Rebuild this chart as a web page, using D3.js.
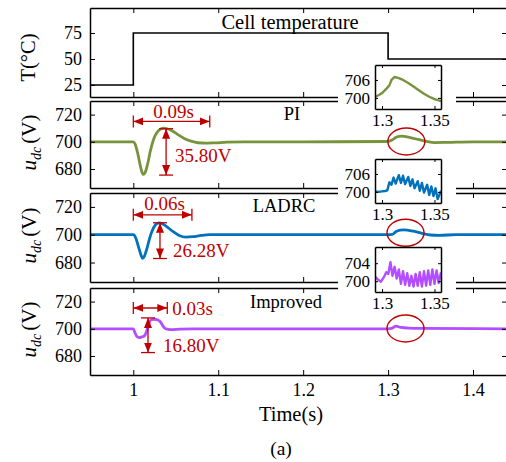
<!DOCTYPE html>
<html><head><meta charset="utf-8">
<script src="https://cdn.jsdelivr.net/npm/d3@7"></script>
<style>body{margin:0;background:#fff}</style>
</head><body><svg id="c" width="506" height="462"></svg>
<script>
// ---------------- data ----------------
const xTicks = [1, 1.1, 1.2, 1.3, 1.4];
const xTickLabels = ["1", "1.1", "1.2", "1.3", "1.4"];
const tempTicks = [25, 50, 75];
const udcTicks = [680, 700, 720];
const panelTitles = ["Cell temperature", "PI", "LADRC", "Improved"];

const tempT = [0.949, 1.0, 1.3, 1.44];
const tempV = [25, 75, 50, 50];

const piT = [0.949, 1.000, 1.002, 1.005, 1.008, 1.010, 1.012, 1.014, 1.017, 1.020, 1.024, 1.028, 1.032, 1.036, 1.040, 1.046, 1.052, 1.060, 1.068, 1.076, 1.085, 1.095, 1.110, 1.130, 1.200, 1.300, 1.305, 1.310, 1.316, 1.325, 1.335, 1.345, 1.355, 1.370, 1.400, 1.440];
const piV = [700, 700, 698.5, 692, 683, 678, 676, 677.5, 684, 693, 702, 707, 709.3, 710, 709.6, 708, 705.5, 702.5, 700.5, 699.3, 699, 699.2, 699.7, 700, 700, 700.2, 701.5, 703.5, 704.2, 703.2, 701.8, 700.3, 699.4, 699.6, 700, 700];

const ladT = [0.949, 1.000, 1.003, 1.006, 1.009, 1.011, 1.013, 1.016, 1.019, 1.022, 1.026, 1.030, 1.034, 1.040, 1.047, 1.054, 1.062, 1.070, 1.080, 1.090, 1.200, 1.300, 1.305, 1.310, 1.318, 1.330, 1.340, 1.350, 1.360, 1.380, 1.440];
const ladV = [700, 700, 697.5, 691.5, 685.5, 683, 684.5, 690, 697, 702.5, 707, 708.5, 708, 705.5, 702.2, 699.5, 698.3, 698.6, 699.5, 700, 700, 700, 700.3, 702.5, 703.5, 702.5, 701, 699.8, 699.6, 700, 700];

const impT = [0.949, 1.000, 1.002, 1.004, 1.007, 1.010, 1.013, 1.015, 1.017, 1.019, 1.021, 1.025, 1.029, 1.032, 1.035, 1.038, 1.044, 1.055, 1.070, 1.300, 1.305, 1.309, 1.315, 1.325, 1.340, 1.440];
const impV = [700, 700, 697, 694.5, 693.5, 694, 694.8, 697, 701, 705, 706.8, 707, 706.5, 705, 702, 700, 699.4, 699.8, 700, 700, 700.5, 702, 701, 700.5, 700.3, 700];

// zoomed insets (1.3 s – 1.35 s)
const insetXTicks = [1.3, 1.35];
const insetXLabels = ["1.3", "1.35"];
const piInTicks = [700, 706];
const ladInTicks = [700, 706];
const impInTicks = [700, 704];

const piInT = [1.2933, 1.297, 1.300, 1.304, 1.307, 1.309, 1.312, 1.316, 1.320, 1.325, 1.330, 1.335, 1.340, 1.345, 1.350, 1.3562];
const piInV = [700.3, 701.0, 701.6, 703.0, 704.2, 706.0, 707.0, 706.6, 706.0, 705.0, 703.8, 702.6, 701.4, 700.4, 699.6, 698.9];

const ladInT = [1.2933, 1.297, 1.300, 1.303, 1.305, 1.307, 1.309, 1.311, 1.313, 1.316, 1.318, 1.320, 1.322, 1.325, 1.327, 1.329, 1.331, 1.334, 1.336, 1.338, 1.340, 1.343, 1.345, 1.347, 1.349, 1.351, 1.353, 1.3562];
const ladInV = [700.2, 700.0, 700.2, 700.3, 700.5, 703.2, 702.4, 704.8, 702.8, 705.6, 703.0, 705.4, 702.6, 705.0, 702.0, 704.2, 701.2, 703.6, 700.4, 703.0, 699.8, 702.4, 699.0, 701.8, 698.6, 701.2, 697.6, 700.4];

const impInT = [1.2933, 1.296, 1.299, 1.302, 1.304, 1.306, 1.308, 1.310, 1.312, 1.314, 1.316, 1.318, 1.320, 1.322, 1.324, 1.326, 1.328, 1.330, 1.332, 1.334, 1.336, 1.338, 1.340, 1.342, 1.344, 1.346, 1.348, 1.350, 1.352, 1.354, 1.3562];
const impInV = [701.0, 700.4, 699.9, 701.0, 702.0, 701.6, 704.2, 701.2, 703.2, 700.6, 702.6, 699.4, 702.2, 699.2, 701.8, 699.0, 701.2, 698.8, 701.6, 699.0, 702.0, 698.8, 702.2, 699.0, 702.4, 699.2, 702.6, 699.4, 702.4, 699.6, 702.0];

// annotation values (data units)
const overshootLabels = ["35.80V", "26.28V", "16.80V"];
const settleLabels = ["0.09s", "0.06s", "0.03s"];
const settleEnd = [1.09, 1.069, 1.04];
const settleLevel = [715, 714.3, 715.3];
const peakT = [1.0386, 1.0314, 1.0173];
const peakTop = [709.6, 708.6, 708];
const peakBottom = [675.5, 682.9, 682.5];
const ellipseT = [1.3215, 1.3205, 1.3205];
const ellipseV = [700.2, 701.4, 700.2];

// ---------------- drawing ----------------
const FONT = '"Liberation Serif","Times New Roman",Times,serif';
const RED = "#C00000";
const colors = ["#77933C", "#0072BD", "#B34DFF"];
const svg = d3.select("#c").style("font-family", FONT);

const defs = svg.append("defs");
defs.append("marker").attr("id", "ah").attr("viewBox", "0 0 10 8")
  .attr("refX", 10).attr("refY", 4).attr("markerWidth", 10).attr("markerHeight", 8)
  .attr("markerUnits", "userSpaceOnUse").attr("orient", "auto-start-reverse")
  .append("path").attr("d", "M0,0L10,4L0,8Z").attr("fill", RED);

const panels = [{top: 8, bottom: 97}, {top: 101, bottom: 188}, {top: 193, bottom: 282}, {top: 288, bottom: 375}];
const L = 90, R = 507;
const x = d3.scaleLinear().domain([0.949, 1.44]).range([L, R]);
const yT = d3.scaleLinear().domain([13.5, 99]).range([panels[0].bottom, panels[0].top]);
const yU = panels.slice(1).map(p => d3.scaleLinear().domain([666, 730]).range([p.bottom, p.top]));

panels.forEach((p, i) => {
  defs.append("clipPath").attr("id", "cp" + i).append("rect")
    .attr("x", L).attr("y", p.top).attr("width", R - L).attr("height", p.bottom - p.top);
});

function styleAxis(g, fs) {
  g.attr("font-family", FONT).attr("font-size", fs);
  g.selectAll("path.domain").attr("stroke", "#000").attr("stroke-width", 1.5);
  g.selectAll(".tick line").attr("stroke", "#000").attr("stroke-width", 1);
  g.selectAll(".tick text").attr("fill", "#000");
}

function frame(xs, ys, top, bottom, left, right, xt, yt, tick, fs, showX, xl, pad) {
  const gb = svg.append("g").attr("transform", `translate(0,${bottom})`)
    .call(d3.axisBottom(xs).tickValues(xt).tickSizeInner(-tick).tickSizeOuter(0).tickPadding(pad)
      .tickFormat((d, i) => showX ? xl[i] : ""));
  styleAxis(gb, fs);
  const gt = svg.append("g").attr("transform", `translate(0,${top})`)
    .call(d3.axisTop(xs).tickValues(xt).tickSizeInner(-tick).tickSizeOuter(0).tickFormat(() => ""));
  styleAxis(gt, fs);
  const gl = svg.append("g").attr("transform", `translate(${left},0)`)
    .call(d3.axisLeft(ys).tickValues(yt).tickSizeInner(-tick).tickSizeOuter(0).tickPadding(pad)
      .tickFormat(d3.format("d")));
  styleAxis(gl, fs);
  const gr = svg.append("g").attr("transform", `translate(${right},0)`)
    .call(d3.axisRight(ys).tickValues(yt).tickSizeInner(-tick).tickSizeOuter(0).tickFormat(() => ""));
  styleAxis(gr, fs);
}

// Panel 1: temperature
const tempData = tempT.map((t, i) => [t, tempV[i]]);
svg.append("path").attr("clip-path", "url(#cp0)")
  .attr("d", d3.line().x(d => x(d[0])).y(d => yT(d[1])).curve(d3.curveStepAfter)(tempData))
  .attr("fill", "none").attr("stroke", "#000").attr("stroke-width", 1.6);
frame(x, yT, panels[0].top, panels[0].bottom, L, R, xTicks, tempTicks, 5, 18, false, xTickLabels, 8);

// Panels 2-4
const series = [[piT, piV], [ladT, ladV], [impT, impV]];
series.forEach((s, k) => {
  const ys = yU[k], p = panels[k + 1];
  const data = s[0].map((t, i) => [t, s[1][i]]);
  svg.append("path").attr("clip-path", `url(#cp${k + 1})`)
    .attr("d", d3.line().x(d => x(d[0])).y(d => ys(d[1])).curve(d3.curveMonotoneX)(data))
    .attr("fill", "none").attr("stroke", colors[k]).attr("stroke-width", 2.8)
    .attr("stroke-linejoin", "round");
  frame(x, ys, p.top, p.bottom, L, R, xTicks, udcTicks, 5, 18, k === 2, xTickLabels, 8);
});

// Titles
const titlePos = [[290, 29], [292, 120], [284, 211.5], [286, 307.5]];
panelTitles.forEach((t, i) => {
  svg.append("text").attr("x", titlePos[i][0]).attr("y", titlePos[i][1])
    .attr("text-anchor", "middle").attr("font-size", i === 0 ? 20.5 : 18.5).attr("fill", "#000").text(t);
});

// Y labels
svg.append("text").attr("transform", `translate(35,${(panels[0].top + panels[0].bottom) / 2 + 5}) rotate(-90)`)
  .attr("text-anchor", "middle").attr("font-size", 20.5).text("T(°C)");
panels.slice(1).forEach(p => {
  const t = svg.append("text").attr("transform", `translate(36,${(p.top + p.bottom) / 2 - 2}) rotate(-90)`)
    .attr("text-anchor", "middle").attr("font-size", 21);
  t.append("tspan").attr("font-style", "italic").text("u");
  t.append("tspan").attr("font-style", "italic").attr("font-size", 14).attr("dy", 5).text("dc");
  t.append("tspan").attr("dy", -5).attr("dx", 3).text("(V)");
});

// X label & caption
svg.append("text").attr("x", 291).attr("y", 421).attr("text-anchor", "middle").attr("font-size", 20.5).text("Time(s)");
svg.append("text").attr("x", 281).attr("y", 455).attr("text-anchor", "middle").attr("font-size", 19.5).text("(a)");

// Annotations
const ann = svg.append("g").attr("stroke", RED).attr("stroke-width", 1.3);
const textPos = [
  {s: "mid", sy: 117.5, o: [175, 161.5]},
  {s: "mid", sy: 209.5, o: [173, 256.5]},
  {s: "right", sy: 315, o: [163, 352]}
];
[0, 1, 2].forEach(k => {
  const ys = yU[k];
  const x0 = x(1.0), x1 = x(settleEnd[k]), yy = ys(settleLevel[k]);
  ann.append("line").attr("x1", x0).attr("x2", x1).attr("y1", yy).attr("y2", yy)
    .attr("marker-start", "url(#ah)").attr("marker-end", "url(#ah)");
  [x0, x1].forEach(xx => ann.append("line").attr("x1", xx).attr("x2", xx).attr("y1", yy - 6).attr("y2", yy + 6));
  const px = x(peakT[k]), yt = ys(peakTop[k]), yb = ys(peakBottom[k]);
  ann.append("line").attr("x1", px).attr("x2", px).attr("y1", yt).attr("y2", yb)
    .attr("marker-start", "url(#ah)").attr("marker-end", "url(#ah)");
  [yt, yb].forEach(v => ann.append("line").attr("x1", px - 7).attr("x2", px + 7).attr("y1", v).attr("y2", v));
  const tp = textPos[k];
  if (tp.s === "mid") {
    svg.append("text").attr("x", (x0 + x1) / 2 + 2).attr("y", tp.sy).attr("text-anchor", "middle")
      .attr("font-size", 19).attr("fill", RED).text(settleLabels[k]);
  } else {
    svg.append("text").attr("x", x1 + 5).attr("y", tp.sy).attr("text-anchor", "start")
      .attr("font-size", 19).attr("fill", RED).text(settleLabels[k]);
  }
  svg.append("text").attr("x", tp.o[0]).attr("y", tp.o[1]).attr("font-size", 19).attr("fill", RED).text(overshootLabels[k]);
  // ellipse
  const cx = x(ellipseT[k]), cy = ys(ellipseV[k]);
  svg.append("ellipse").attr("cx", cx).attr("cy", cy)
    .attr("rx", x(ellipseT[k] + 0.0218) - cx).attr("ry", 13.5)
    .attr("fill", "none").attr("stroke", RED).attr("stroke-width", 1.4);
});

// Insets
const insetTops = [65, 159, 247];
const insetH = [44, 44, 45];
const insetDomains = [[696.3, 711], [696.3, 711], [697.6, 707.6]];
const insetTicks = [piInTicks, ladInTicks, impInTicks];
const insetData = [[piInT, piInV], [ladInT, ladInV], [impInT, impInV]];
const IL = 375, IR = 441;
const xi = d3.scaleLinear().domain([1.2933, 1.3562]).range([IL, IR]);
[0, 1, 2].forEach(k => {
  const top = insetTops[k], bot = top + insetH[k];
  const yi = d3.scaleLinear().domain(insetDomains[k]).range([bot, top]);
  svg.append("rect").attr("x", 338).attr("y", top).attr("width", 118).attr("height", bot - top).attr("fill", "#fff");
  defs.append("clipPath").attr("id", "ci" + k).append("rect")
    .attr("x", IL).attr("y", top).attr("width", IR - IL).attr("height", bot - top);
  const data = insetData[k][0].map((t, i) => [t, insetData[k][1][i]]);
  svg.append("path").attr("clip-path", `url(#ci${k})`)
    .attr("d", d3.line().x(d => xi(d[0])).y(d => yi(d[1])).curve(d3.curveLinear)(data))
    .attr("fill", "none").attr("stroke", colors[k]).attr("stroke-width", 2.4).attr("stroke-linejoin", "round");
  frame(xi, yi, top, bot, IL, IR, insetXTicks, insetTicks[k], 3, 17, true, insetXLabels, 5);
});
</script>
</body></html>
